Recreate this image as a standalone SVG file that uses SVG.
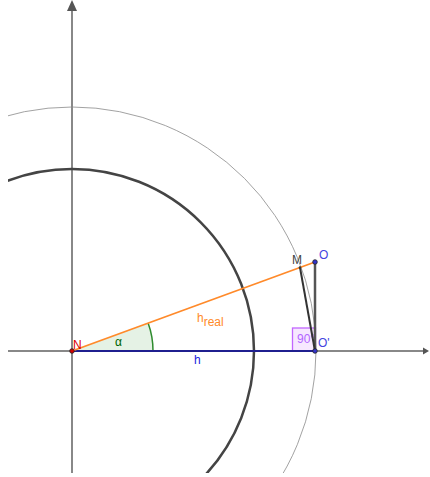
<svg xmlns="http://www.w3.org/2000/svg" width="430" height="477" viewBox="0 0 430 477">
<style>
  text { font-family: "Liberation Sans", Arial, sans-serif; font-size: 12px; }
  .axis { stroke: #606060; stroke-width: 1.5; fill: none; }
  .pt { stroke: #222; stroke-width: 0.8; }
</style>
<defs>
  <clipPath id="view"><rect x="8" y="0" width="422" height="473"/></clipPath>
  <marker id="arrUp" markerWidth="10" markerHeight="12" refX="5" refY="0" orient="auto" markerUnits="userSpaceOnUse">
    <path d="M0,11 L5,0 L10,11 Z" fill="#555"/>
  </marker>
</defs>
<rect width="430" height="477" fill="#fff"/>
<g clip-path="url(#view)">
  <g id="axes">
    <line class="axis" x1="72" y1="473" x2="72" y2="10"/>
    <path d="M72,0 L67,11 L77,11 Z" fill="#555"/>
    <line class="axis" x1="8" y1="351" x2="423" y2="351"/>
    <path d="M429,351 L423,347.5 L423,354.5 Z" fill="#555"/>
  </g>
  <g id="circles">
    <circle cx="72" cy="351" r="244" fill="none" stroke="#8a8a8a" stroke-width="0.8"/>
    <circle cx="72" cy="351" r="182" fill="none" stroke="#444" stroke-width="2.5"/>
  </g>
  <g id="angle-alpha">
    <path d="M72,351 L153,351 A81,81 0 0 0 148.1,323.1 Z" fill="#007f00" fill-opacity="0.1" stroke="none"/>
    <path d="M153,351 A81,81 0 0 0 148.1,323.1" fill="none" stroke="#2e8b2e" stroke-width="1.5"/>
    <text x="115" y="346" fill="#006400" font-size="13">α</text>
  </g>
  <g id="right-angle">
    <rect x="292.5" y="328" width="23" height="23" fill="#e5b3ff" fill-opacity="0.3" stroke="#c266ff" stroke-width="1.3"/>
    <text x="297" y="343" fill="#b366ff" font-size="12">90°</text>
  </g>
  <g id="connectors">
    <line x1="72" y1="351" x2="315" y2="351" stroke="#1f1f8f" stroke-width="2"/>
    <line x1="72" y1="351" x2="315" y2="262" stroke="#ff8a2a" stroke-width="1.8"/>
    <line x1="315" y1="262" x2="315" y2="351" stroke="#555" stroke-width="2.5"/>
    <line x1="300" y1="267.5" x2="315" y2="351" stroke="#333" stroke-width="2"/>
  </g>
  <g id="N">
    <circle class="pt" cx="72" cy="351" r="2.3" fill="#d40000"/>
    <text x="73" y="349" fill="#e00000" font-size="13">N</text>
  </g>
  <g id="M">
    <circle cx="300" cy="267.5" r="1.3" fill="#333"/>
    <text x="292" y="264" fill="#444" font-size="13">M</text>
  </g>
  <g id="O">
    <circle class="pt" cx="315" cy="262" r="2.3" fill="#3333cc"/>
    <text x="319" y="259" fill="#4444e0" font-size="13">O</text>
  </g>
  <g id="O-prime">
    <circle class="pt" cx="315" cy="351" r="2.3" fill="#3333cc"/>
    <text x="318" y="347" fill="#4444e0" font-size="13">O'</text>
  </g>
  <g id="labels">
    <text x="197" y="322" fill="#ff8a2a" font-size="13">h<tspan dy="4" font-size="12">real</tspan></text>
    <text x="194" y="364" fill="#2222dd" font-size="13">h</text>
  </g>
</g>
</svg>
